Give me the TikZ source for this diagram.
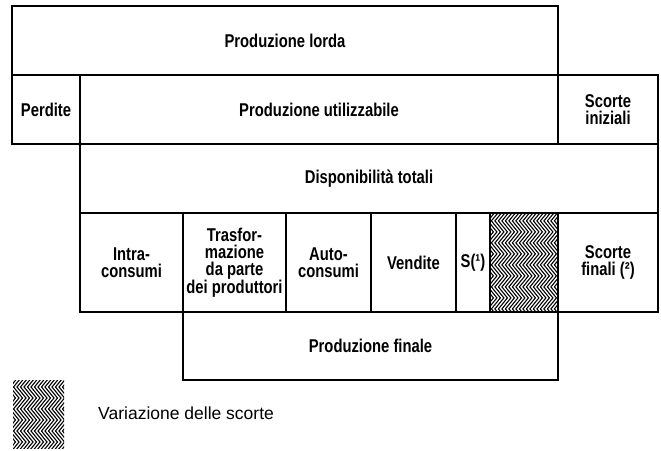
\documentclass[tikz,border=0pt]{standalone}
\usepackage{fontspec}
\setmainfont{Liberation Sans}
\newfontfamily\condfont[FakeStretch=0.8]{Liberation Sans}
% vertical zigzag hatch inside a rectangle
\newcommand{\zigzagfill}[4]{%
  \begin{scope}
    \clip (#1,#2) rectangle (#3,#4);
    \foreach \k in {0,...,24}
      \draw[line width=1.1pt] ({#1-10+3.5*\k},{#2-15})
        \foreach \j in {1,...,6} { -- ++(9,11) -- ++(-9,11) };
  \end{scope}}

\begin{document}
\begin{tikzpicture}[x=1pt,y=-1pt]

      \tikzset{box/.style={draw, line width=1.8pt, inner sep=0pt, align=center,
                           font=\condfont\bfseries\fontsize{18.5}{17}\selectfont}}
      \useasboundingbox (0,0) rectangle (661,450);
%% Rows
      	\node[box, minimum width=546pt, minimum height=69pt] (lorda) at (285,40.5) {Produzione lorda};
      	\node[box, minimum width=68pt, minimum height=69pt] (perdite) at (46,109.5) {Perdite};
      	\node[box, minimum width=478pt, minimum height=69pt] (utilizz) at (319,109.5) {Produzione utilizzabile};
      	\node[box, minimum width=100pt, minimum height=69pt] (iniziali) at (608,109.5) {Scorte\\iniziali};
      	\node[box, minimum width=578pt, minimum height=69pt] (disponib) at (369,178.5) {Disponibilità totali};
%% Uses
      	\node[box, minimum width=103pt, minimum height=99pt] (intra) at (131.5,262.5) {Intra-\\consumi};
      	\node[box, minimum width=103pt, minimum height=99pt] (trasf) at (234.5,262.5) {Trasfor-\\mazione\\da parte\\dei produttori};
      	\node[box, minimum width=85pt, minimum height=99pt] (auto) at (328.5,262.5) {Auto-\\consumi};
      	\node[box, minimum width=85pt, minimum height=99pt] (vendite) at (413.5,262.5) {Vendite};
      	\node[box, minimum width=34pt, minimum height=99pt] (scorta) at (473,262.5) {S(¹)};
      	\node[box, minimum width=68pt, minimum height=99pt] (variaz) at (524,262.5) {};
      	\node[box, minimum width=100pt, minimum height=99pt] (finali) at (608,262.5) {Scorte\\finali (²)};
      	\node[box, minimum width=375pt, minimum height=68pt] (prodfin) at (370.5,346) {Produzione finale};
%Hatch
		\zigzagfill{490.9}{213.9}{557.1}{311.1}
		\zigzagfill{13}{380}{64}{448}
		\node[anchor=west, inner sep=0pt, font=\fontsize{17.5}{20}\selectfont] (legenda) at (98,413) {Variazione delle scorte};

	\end{tikzpicture}
\end{document}
